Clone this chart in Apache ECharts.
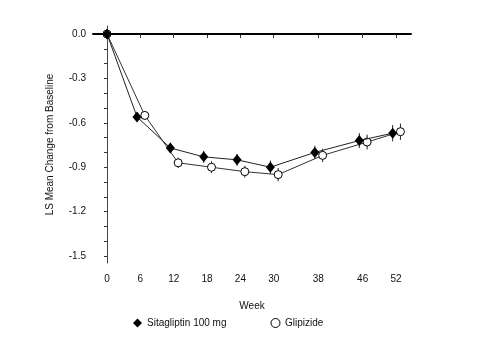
<!DOCTYPE html>
<html><head><meta charset="utf-8">
<script src="https://cdn.jsdelivr.net/npm/echarts@6/dist/echarts.min.js"></script>
<style>html,body{margin:0;padding:0;background:#fff}#c{width:479px;height:346px}</style>
</head><body><div id="c"></div>
<script>
var weeks = [0, 6, 12, 18, 24, 30, 38, 46, 52];
var sitagliptin = [0, -0.56, -0.77, -0.83, -0.85, -0.90, -0.80, -0.72, -0.67];
var sitaErr = [0, 0.03, 0.035, 0.04, 0.04, 0.045, 0.045, 0.05, 0.055];
var glipizide = [0, -0.55, -0.87, -0.90, -0.93, -0.95, -0.82, -0.73, -0.66];
var glipErr = [0, 0.03, 0.035, 0.04, 0.04, 0.045, 0.045, 0.05, 0.055];
var yTicks = [0, -0.1, -0.2, -0.3, -0.4, -0.5, -0.6, -0.7, -0.8, -0.9, -1.0, -1.1, -1.2, -1.3, -1.4, -1.5];
var yLabels = [0, -0.3, -0.6, -0.9, -1.2, -1.5];

var offS = -0.6, offG = 0.8;
function pts(vals, off){ return weeks.map(function(w,i){ return [i===0?w:w+off, vals[i]]; }); }
function errData(vals, errs, off){ return weeks.map(function(w,i){ return [i===0?w:w+off, vals[i], errs[i]]; }); }
function errRender(params, api){
  var x = api.value(0), v = api.value(1), e = api.value(2);
  if (!e) return;
  var p1 = api.coord([x, v + e]), p2 = api.coord([x, v - e]);
  return {type:'line', shape:{x1:p1[0], y1:p1[1], x2:p2[0], y2:p2[1]}, style:{stroke:'#222', lineWidth:1}};
}
var font = 'Liberation Sans, Arial, sans-serif';
var chart = echarts.init(document.getElementById('c'), null, {renderer:'canvas'});
chart.setOption({
  animation:false,
  backgroundColor:'#fff',
  grid:{left:93, right:68, top:26, bottom:83},
  xAxis:{
    type:'value', min:-2.52, max:54.7,
    name:'Week', nameLocation:'middle', nameGap:38,
    nameTextStyle:{fontFamily:font, fontSize:10, color:'#111'},
    axisLine:{lineStyle:{color:'#000', width:2}},
    axisTick:{customValues:weeks, length:4, lineStyle:{color:'#333', width:1}},
    axisLabel:{customValues:weeks, fontFamily:font, fontSize:10, color:'#111', margin:11},
    splitLine:{show:false}
  },
  yAxis:{
    type:'value', min:-1.547, max:0.054,
    name:'LS Mean Change from Baseline', nameLocation:'middle', nameGap:38,
    nameTextStyle:{fontFamily:font, fontSize:10, color:'#111'},
    axisLine:{show:true, lineStyle:{color:'#444', width:1}},
    axisTick:{show:true, customValues:yTicks, length:3, lineStyle:{color:'#333'}},
    axisLabel:{customValues:yLabels, fontFamily:font, fontSize:10, color:'#111', margin:7,
      formatter:function(v){ return (Math.abs(v)<1e-9?0:v).toFixed(1); }},
    splitLine:{show:false}
  },
  legend:{
    bottom:13, left:128, itemGap:44, itemWidth:9, itemHeight:9,
    textStyle:{fontFamily:font, fontSize:10, color:'#111'},
    data:[
      {name:'Sitagliptin 100 mg', icon:'diamond', itemStyle:{color:'#000', borderWidth:0}},
      {name:'Glipizide', icon:'circle', itemStyle:{color:'#fff', borderColor:'#000', borderWidth:1}}
    ]
  },
  series:[
    {name:'Glipizide', type:'line', data:pts(glipizide, offG), symbol:'circle', symbolSize:8,
     lineStyle:{color:'#333', width:1}, itemStyle:{color:'#fff', borderColor:'#000', borderWidth:1}, z:3,
     markLine:{silent:true, symbol:'none', label:{show:false},
       lineStyle:{color:'#000', type:[1,2], width:1}, data:[{yAxis:0}]}},
    {type:'custom', renderItem:errRender, data:errData(glipizide, glipErr, offG), z:2, silent:true},
    {name:'Sitagliptin 100 mg', type:'line', data:pts(sitagliptin, offS), symbol:'diamond', symbolSize:[9,11],
     lineStyle:{color:'#222', width:1}, itemStyle:{color:'#000'}, z:5},
    {type:'custom', renderItem:errRender, data:errData(sitagliptin, sitaErr, offS), z:4, silent:true}
  ]
});
</script></body></html>
